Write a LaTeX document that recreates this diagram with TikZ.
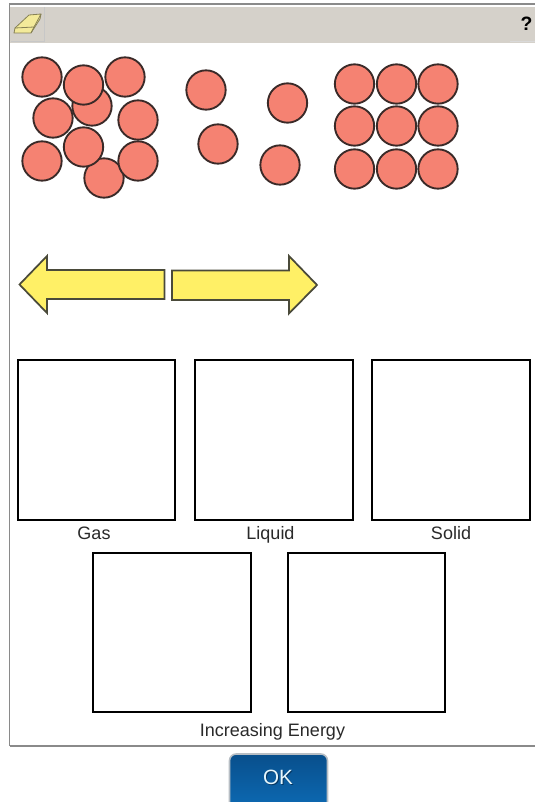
\documentclass[tikz,border=0pt]{standalone}
\usepackage{fontspec}
\setmainfont{Liberation Sans}
\definecolor{barcol}{HTML}{D5D1CA}
\definecolor{ballcol}{HTML}{F58272}
\definecolor{ballline}{HTML}{3A2A28}
\definecolor{arrowcol}{HTML}{FFF066}
\definecolor{arrowline}{HTML}{4A4A3A}
\definecolor{framecol}{HTML}{8A8A8A}
\definecolor{btntop}{HTML}{084F8C}
\definecolor{btnbot}{HTML}{0E6DB8}
\definecolor{btnedge}{HTML}{B8BEC4}
\definecolor{erasercol}{HTML}{F3EA9A}
\definecolor{labelcol}{HTML}{2A2A2A}
\tikzset{
  ball/.style={circle,draw=ballline,fill=ballcol,line width=1.4pt,minimum size=29.5pt,inner sep=0pt},
  dropbox/.style={draw=black,fill=white,line width=1.6pt,inner sep=0pt},
  biglabel/.style={font=\fontsize{13.5pt}{15pt}\selectfont,text=labelcol,inner sep=0pt,anchor=base},
  yarrow/.style={draw=arrowline,fill=arrowcol,line width=1.3pt,line join=miter}
}
\begin{document}
\begin{tikzpicture}[x=0.75pt,y=-0.75pt]
\useasboundingbox (0,0) rectangle (535,802);
% frame and toolbar
\fill[white] (0,0) rectangle (535,802);
\fill[barcol] (10,7) rectangle (535,43.5);
\draw[framecol,line width=0.9pt] (9.5,746) -- (9.5,4) -- (535,4);
\draw[framecol,line width=0.9pt] (9.5,746) -- (535,746);
\draw[black!22,line width=0.5pt] (44,7) -- (44,41) -- (11,41);
\draw[black!15,line width=0.5pt] (535,41) -- (510,41);
% eraser icon
\draw[erasercol!55!black,fill=erasercol,line width=0.6pt,line join=round]
  (14,33) -- (15,28) -- (29,15) -- (41,14) -- (40,19) -- (31,33) -- cycle;
\draw[erasercol!55!black,line width=0.6pt] (15,28) -- (34,27) -- (41,14) (34,27) -- (31,33);
\node[font=\bfseries\fontsize{14.5pt}{16pt}\selectfont,inner sep=0pt] (help) at (526.5,24) {?};
% gas
\foreach \n/\x/\y in {a1/104/178,a2/42/77,a3/125/77,a4/92/106,a5/83.5/85,a6/53/118,a7/138/120,a8/138/161,a9/42/161,a10/83.5/147}
  \node[ball] (\n) at (\x,\y) {};
% liquid
\foreach \n/\x/\y in {b1/206/90,b2/287.5/103,b3/218/144,b4/280/165}
  \node[ball] (\n) at (\x,\y) {};
% solid
\foreach \n/\x/\y in {c1/354.5/84,c2/396.5/84,c3/438/84,c4/354.5/126,c5/396.5/126,c6/438/126,c7/354.5/169,c8/396.5/169,c9/438/169}
  \node[ball] (\n) at (\x,\y) {};
% arrows
\draw[yarrow] (19.5,284.5) -- (47,256) -- (47,270) -- (164.5,270) -- (164.5,299) -- (47,299) -- (47,313) -- cycle;
\draw[yarrow] (172,270.5) -- (289,270.5) -- (289,256) -- (317,285) -- (289,313.5) -- (289,300) -- (172,300) -- cycle;
% boxes
\node[dropbox,minimum width=118pt,minimum height=119.5pt] (gasbox) at (96.5,440) {};
\node[dropbox,minimum width=118pt,minimum height=119.5pt] (liqbox) at (274,440) {};
\node[dropbox,minimum width=118pt,minimum height=119.5pt] (solbox) at (451,440) {};
\node[dropbox,minimum width=118pt,minimum height=119pt] (lowbox) at (172,632.5) {};
\node[dropbox,minimum width=118pt,minimum height=119pt] (highbox) at (366.5,632.5) {};
% labels
\node[biglabel] (gas) at (94,539) {Gas};
\node[biglabel] (liq) at (270.5,539) {Liquid};
\node[biglabel] (sol) at (451,539) {Solid};
\node[biglabel] (en) at (272.5,736) {Increasing Energy};
% OK button
\begin{scope}
\clip (0,0) rectangle (535,802);
\draw[btnedge,line width=1.2pt,top color=btntop,bottom color=btnbot,rounded corners=5pt]
  (229.5,754) rectangle (327.5,815);
\end{scope}
\node[font=\fontsize{15.5pt}{17pt}\selectfont,text=black!30!btntop,inner sep=0pt,anchor=base] (oks) at (279,785) {OK};
\node[font=\fontsize{15.5pt}{17pt}\selectfont,text=white!90!cyan,inner sep=0pt,anchor=base] (ok) at (278,784) {OK};
\end{tikzpicture}
\end{document}
